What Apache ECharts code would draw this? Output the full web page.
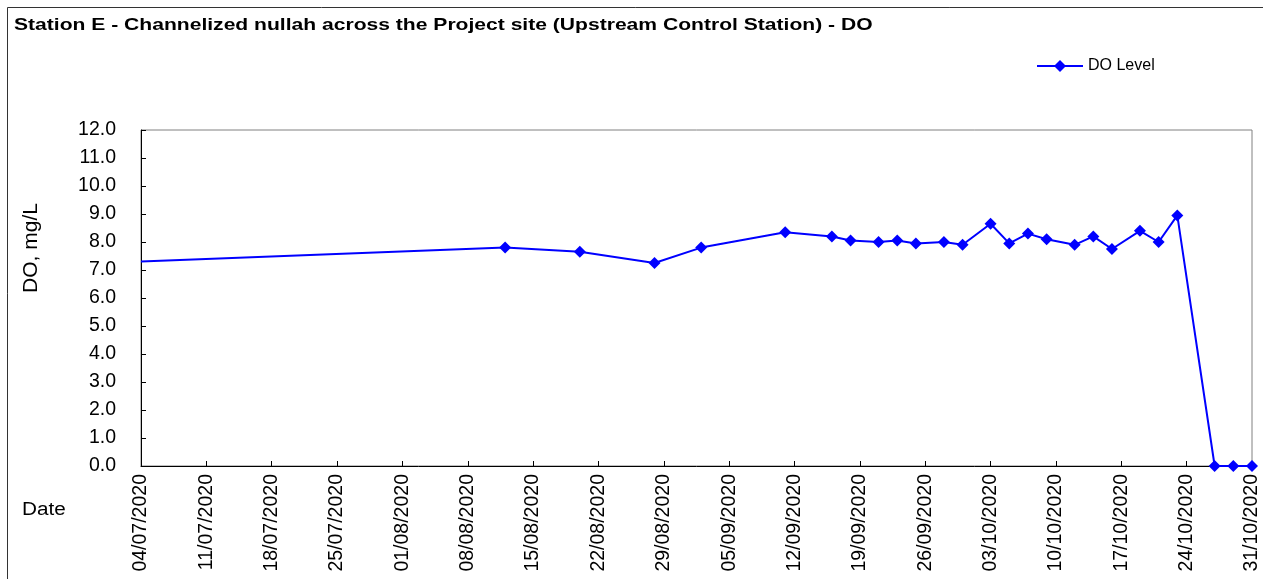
<!DOCTYPE html>
<html>
<head>
<meta charset="utf-8">
<script src="https://cdn.jsdelivr.net/npm/echarts@6/dist/echarts.min.js"></script>
<style>
  html, body { margin: 0; padding: 0; background: #fff; }
  #chart { width: 1263px; height: 579px; }
</style>
</head>
<body>
<div id="chart"></div>
<script>
// sampling dates and DO readings (mg/L)
const dates = ['04/07/2020', '12/08/2020', '20/08/2020', '28/08/2020', '02/09/2020', '11/09/2020',
  '16/09/2020', '18/09/2020', '21/09/2020', '23/09/2020', '25/09/2020', '28/09/2020', '30/09/2020',
  '03/10/2020', '05/10/2020', '07/10/2020', '09/10/2020', '12/10/2020', '14/10/2020', '16/10/2020',
  '19/10/2020', '21/10/2020', '23/10/2020', '27/10/2020', '29/10/2020', '31/10/2020'];
const doLevel = [7.3, 7.8, 7.65, 7.25, 7.8, 8.35,
  8.2, 8.05, 8.0, 8.05, 7.95, 8.0, 7.9,
  8.65, 7.95, 8.3, 8.1, 7.9, 8.2, 7.75,
  8.4, 8.0, 8.95, 0.0, 0.0, 0.0];
const yTicks = [0, 1, 2, 3, 4, 5, 6, 7, 8, 9, 10, 11, 12];

const FONT = 'Liberation Sans, Arial, sans-serif';
const DAY = 86400000;
const start = Date.UTC(2020, 6, 4);

// dd/mm/yyyy -> days since 04/07/2020
function toDay(s) {
  const p = s.split('/');
  return Math.round((Date.UTC(+p[2], +p[1] - 1, +p[0]) - start) / DAY);
}
function fromDay(d) {
  const t = new Date(start + d * DAY);
  const dd = String(t.getUTCDate()).padStart(2, '0');
  const mm = String(t.getUTCMonth() + 1).padStart(2, '0');
  return dd + '/' + mm + '/' + t.getUTCFullYear();
}

const seriesData = dates.map((d, i) => {
  const item = { value: [toDay(d), doLevel[i]] };
  if (i === 0) item.symbolSize = 0; // first reading sits on the axis edge, no marker shown
  return item;
});

const myChart = echarts.init(document.getElementById('chart'));
const option = {
  animation: false,
  backgroundColor: '#fff',
  textStyle: { fontFamily: FONT },
  legend: {
    data: ['DO Level'],
    left: 1036, top: 58, padding: 0,
    itemWidth: 46, itemHeight: 15, itemGap: 6,
    textStyle: { fontFamily: FONT, fontSize: 16, color: '#000' }
  },
  graphic: [
    { type: 'rect', z: -1, silent: true,
      shape: { x: 7.5, y: 7.5, width: 1300, height: 620 },
      style: { fill: 'none', stroke: '#333', lineWidth: 1 } },
    { type: 'text', x: 14, y: 17, scaleX: 1.24,
      style: { text: 'Station E - Channelized nullah across the Project site (Upstream Control Station) - DO',
        font: 'bold 17px ' + FONT, fill: '#000', verticalAlign: 'top' } },
    { type: 'text', x: 22, y: 510, scaleX: 1.15,
      style: { text: 'Date', font: '18px ' + FONT, fill: '#000', verticalAlign: 'middle' } },
    { type: 'text', x: 31, y: 248, rotation: Math.PI / 2,
      style: { text: 'DO, mg/L', font: '21px ' + FONT, fill: '#000', align: 'center', verticalAlign: 'middle' } }
  ],
  grid: {
    left: 141, right: 11, top: 130, bottom: 113,
    show: true, borderColor: '#808080', borderWidth: 1
  },
  xAxis: {
    type: 'value',
    min: 0, max: toDay('31/10/2020'), interval: 7,
    splitLine: { show: false },
    axisLine: { show: true, onZero: false, lineStyle: { color: '#000', width: 1 } },
    axisTick: { show: true, inside: true, length: 5, lineStyle: { color: '#000' } },
    axisLabel: {
      rotate: 90, margin: 8, fontFamily: FONT, fontSize: 19.5, color: '#000',
      formatter: v => fromDay(v)
    }
  },
  yAxis: {
    type: 'value',
    min: yTicks[0], max: yTicks[yTicks.length - 1], interval: 1,
    splitLine: { show: false },
    axisLine: { show: true, lineStyle: { color: '#000', width: 1 } },
    axisTick: { show: true, inside: true, length: 5, lineStyle: { color: '#000' } },
    axisLabel: {
      margin: 25, fontFamily: FONT, fontSize: 19.5, color: '#000',
      formatter: v => v.toFixed(1)
    }
  },
  series: [{
    name: 'DO Level',
    type: 'line',
    data: seriesData,
    symbol: 'diamond',
    symbolSize: 12,
    clip: false,
    lineStyle: { color: '#0000ff', width: 2 },
    itemStyle: { color: '#0000ff' }
  }]
};
option && myChart.setOption(option);
</script>
</body>
</html>
